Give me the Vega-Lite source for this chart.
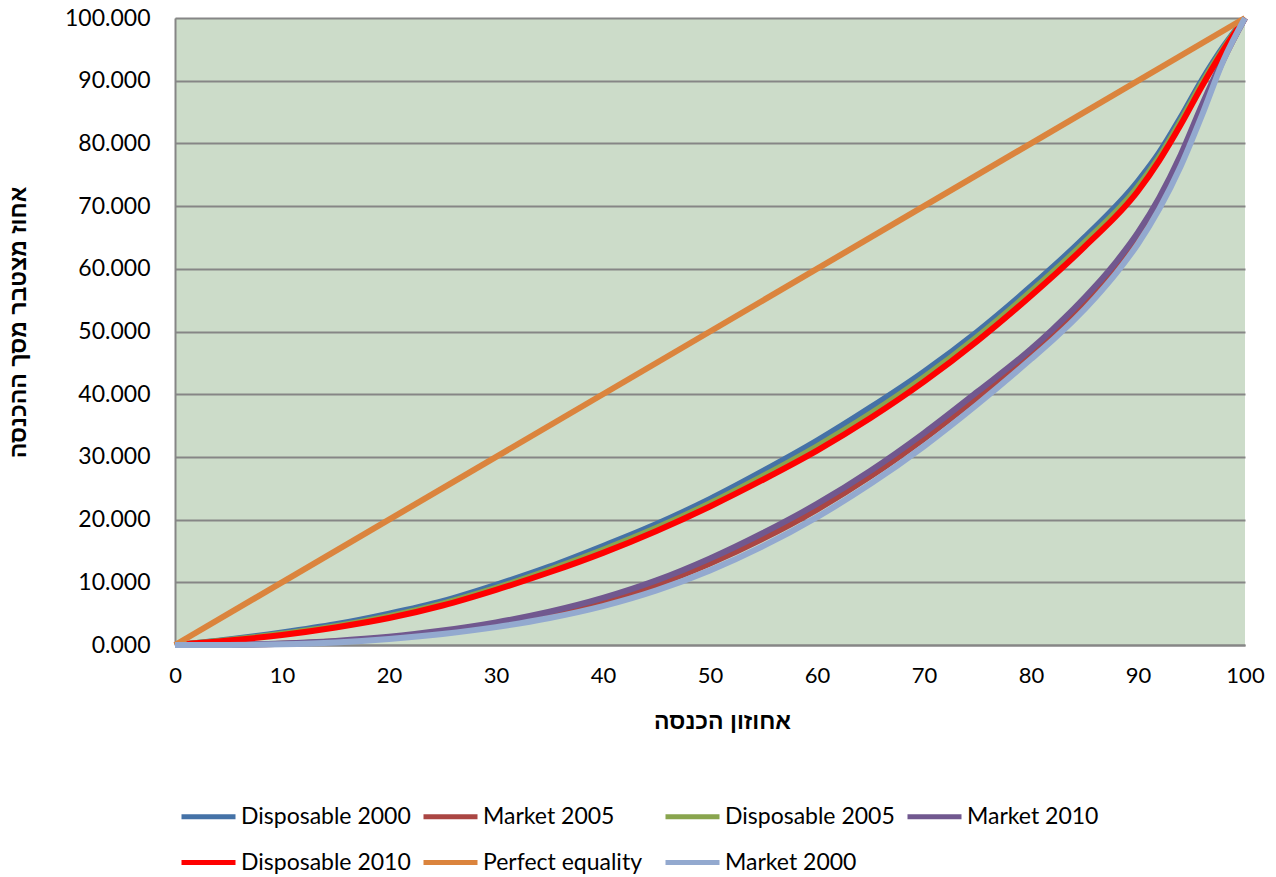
{
  "$schema": "https://vega.github.io/schema/vega-lite/v6.json",
  "autosize": {"type": "none"},
  "width": 1070,
  "height": 627,
  "padding": {"left": 175, "top": 18, "right": 31, "bottom": 232},
  "background": "white",
  "config": {
    "view": {"fill": "#CCDCC9", "stroke": null},
    "font": "Lato"
  },
  "datasets": {
    "lorenz": [
      {"series": "Disposable 2000", "x": 0, "y": 0}, {"series": "Disposable 2000", "x": 5, "y": 0.9}, {"series": "Disposable 2000", "x": 10, "y": 2.0}, {"series": "Disposable 2000", "x": 15, "y": 3.3}, {"series": "Disposable 2000", "x": 20, "y": 5.0}, {"series": "Disposable 2000", "x": 25, "y": 7.0}, {"series": "Disposable 2000", "x": 30, "y": 9.6}, {"series": "Disposable 2000", "x": 35, "y": 12.5}, {"series": "Disposable 2000", "x": 40, "y": 15.8}, {"series": "Disposable 2000", "x": 45, "y": 19.3}, {"series": "Disposable 2000", "x": 50, "y": 23.3}, {"series": "Disposable 2000", "x": 55, "y": 27.8}, {"series": "Disposable 2000", "x": 60, "y": 32.6}, {"series": "Disposable 2000", "x": 65, "y": 37.9}, {"series": "Disposable 2000", "x": 70, "y": 43.6}, {"series": "Disposable 2000", "x": 75, "y": 50.0}, {"series": "Disposable 2000", "x": 80, "y": 57.2}, {"series": "Disposable 2000", "x": 85, "y": 65.0}, {"series": "Disposable 2000", "x": 90, "y": 74.0}, {"series": "Disposable 2000", "x": 92, "y": 78.6}, {"series": "Disposable 2000", "x": 94, "y": 84.2}, {"series": "Disposable 2000", "x": 96, "y": 90.2}, {"series": "Disposable 2000", "x": 98, "y": 95.5}, {"series": "Disposable 2000", "x": 100, "y": 100},

      {"series": "Market 2005", "x": 0, "y": 0}, {"series": "Market 2005", "x": 5, "y": 0.03}, {"series": "Market 2005", "x": 10, "y": 0.2}, {"series": "Market 2005", "x": 15, "y": 0.55}, {"series": "Market 2005", "x": 20, "y": 1.15}, {"series": "Market 2005", "x": 25, "y": 2.05}, {"series": "Market 2005", "x": 30, "y": 3.25}, {"series": "Market 2005", "x": 35, "y": 4.85}, {"series": "Market 2005", "x": 40, "y": 6.9}, {"series": "Market 2005", "x": 45, "y": 9.6}, {"series": "Market 2005", "x": 50, "y": 13.0}, {"series": "Market 2005", "x": 55, "y": 17.0}, {"series": "Market 2005", "x": 60, "y": 21.6}, {"series": "Market 2005", "x": 65, "y": 26.9}, {"series": "Market 2005", "x": 70, "y": 32.9}, {"series": "Market 2005", "x": 75, "y": 39.5}, {"series": "Market 2005", "x": 80, "y": 46.4}, {"series": "Market 2005", "x": 82, "y": 49.5}, {"series": "Market 2005", "x": 84, "y": 52.8}, {"series": "Market 2005", "x": 86, "y": 56.4}, {"series": "Market 2005", "x": 88, "y": 60.4}, {"series": "Market 2005", "x": 90, "y": 65.0}, {"series": "Market 2005", "x": 92, "y": 70.6}, {"series": "Market 2005", "x": 94, "y": 77.4}, {"series": "Market 2005", "x": 96, "y": 85.5}, {"series": "Market 2005", "x": 98, "y": 93.4}, {"series": "Market 2005", "x": 100, "y": 100},

      {"series": "Disposable 2005", "x": 0, "y": 0}, {"series": "Disposable 2005", "x": 5, "y": 0.8}, {"series": "Disposable 2005", "x": 10, "y": 1.8}, {"series": "Disposable 2005", "x": 15, "y": 3.0}, {"series": "Disposable 2005", "x": 20, "y": 4.6}, {"series": "Disposable 2005", "x": 25, "y": 6.6}, {"series": "Disposable 2005", "x": 30, "y": 9.1}, {"series": "Disposable 2005", "x": 35, "y": 12.0}, {"series": "Disposable 2005", "x": 40, "y": 15.2}, {"series": "Disposable 2005", "x": 45, "y": 18.7}, {"series": "Disposable 2005", "x": 50, "y": 22.6}, {"series": "Disposable 2005", "x": 55, "y": 27.0}, {"series": "Disposable 2005", "x": 60, "y": 31.7}, {"series": "Disposable 2005", "x": 65, "y": 36.9}, {"series": "Disposable 2005", "x": 70, "y": 42.7}, {"series": "Disposable 2005", "x": 75, "y": 49.2}, {"series": "Disposable 2005", "x": 80, "y": 56.4}, {"series": "Disposable 2005", "x": 85, "y": 64.2}, {"series": "Disposable 2005", "x": 90, "y": 73.1}, {"series": "Disposable 2005", "x": 92, "y": 77.9}, {"series": "Disposable 2005", "x": 94, "y": 83.6}, {"series": "Disposable 2005", "x": 96, "y": 89.7}, {"series": "Disposable 2005", "x": 98, "y": 95.2}, {"series": "Disposable 2005", "x": 100, "y": 100},

      {"series": "Market 2010", "x": 0, "y": 0}, {"series": "Market 2010", "x": 5, "y": 0.05}, {"series": "Market 2010", "x": 10, "y": 0.25}, {"series": "Market 2010", "x": 15, "y": 0.65}, {"series": "Market 2010", "x": 20, "y": 1.3}, {"series": "Market 2010", "x": 25, "y": 2.3}, {"series": "Market 2010", "x": 30, "y": 3.6}, {"series": "Market 2010", "x": 35, "y": 5.3}, {"series": "Market 2010", "x": 40, "y": 7.5}, {"series": "Market 2010", "x": 45, "y": 10.3}, {"series": "Market 2010", "x": 50, "y": 13.8}, {"series": "Market 2010", "x": 55, "y": 17.9}, {"series": "Market 2010", "x": 60, "y": 22.5}, {"series": "Market 2010", "x": 65, "y": 27.8}, {"series": "Market 2010", "x": 70, "y": 33.8}, {"series": "Market 2010", "x": 75, "y": 40.4}, {"series": "Market 2010", "x": 80, "y": 47.2}, {"series": "Market 2010", "x": 82, "y": 50.3}, {"series": "Market 2010", "x": 84, "y": 53.6}, {"series": "Market 2010", "x": 86, "y": 57.2}, {"series": "Market 2010", "x": 88, "y": 61.2}, {"series": "Market 2010", "x": 90, "y": 65.8}, {"series": "Market 2010", "x": 92, "y": 71.4}, {"series": "Market 2010", "x": 94, "y": 78.2}, {"series": "Market 2010", "x": 96, "y": 86.2}, {"series": "Market 2010", "x": 98, "y": 93.6}, {"series": "Market 2010", "x": 100, "y": 100},

      {"series": "Disposable 2010", "x": 0, "y": 0}, {"series": "Disposable 2010", "x": 5, "y": 0.7}, {"series": "Disposable 2010", "x": 10, "y": 1.6}, {"series": "Disposable 2010", "x": 15, "y": 2.8}, {"series": "Disposable 2010", "x": 20, "y": 4.3}, {"series": "Disposable 2010", "x": 25, "y": 6.3}, {"series": "Disposable 2010", "x": 30, "y": 8.8}, {"series": "Disposable 2010", "x": 35, "y": 11.6}, {"series": "Disposable 2010", "x": 40, "y": 14.7}, {"series": "Disposable 2010", "x": 45, "y": 18.2}, {"series": "Disposable 2010", "x": 50, "y": 22.1}, {"series": "Disposable 2010", "x": 55, "y": 26.4}, {"series": "Disposable 2010", "x": 60, "y": 31.0}, {"series": "Disposable 2010", "x": 65, "y": 36.2}, {"series": "Disposable 2010", "x": 70, "y": 42.0}, {"series": "Disposable 2010", "x": 75, "y": 48.5}, {"series": "Disposable 2010", "x": 80, "y": 55.7}, {"series": "Disposable 2010", "x": 85, "y": 63.5}, {"series": "Disposable 2010", "x": 90, "y": 72.4}, {"series": "Disposable 2010", "x": 92, "y": 77.3}, {"series": "Disposable 2010", "x": 94, "y": 83.0}, {"series": "Disposable 2010", "x": 96, "y": 89.2}, {"series": "Disposable 2010", "x": 98, "y": 94.9}, {"series": "Disposable 2010", "x": 100, "y": 100},

      {"series": "Perfect equality", "x": 0, "y": 0}, {"series": "Perfect equality", "x": 100, "y": 100},

      {"series": "Market 2000", "x": 0, "y": 0}, {"series": "Market 2000", "x": 5, "y": 0.02}, {"series": "Market 2000", "x": 10, "y": 0.12}, {"series": "Market 2000", "x": 15, "y": 0.4}, {"series": "Market 2000", "x": 20, "y": 0.95}, {"series": "Market 2000", "x": 25, "y": 1.75}, {"series": "Market 2000", "x": 30, "y": 2.85}, {"series": "Market 2000", "x": 35, "y": 4.3}, {"series": "Market 2000", "x": 40, "y": 6.2}, {"series": "Market 2000", "x": 45, "y": 8.7}, {"series": "Market 2000", "x": 50, "y": 11.9}, {"series": "Market 2000", "x": 55, "y": 15.8}, {"series": "Market 2000", "x": 60, "y": 20.4}, {"series": "Market 2000", "x": 65, "y": 25.7}, {"series": "Market 2000", "x": 70, "y": 31.7}, {"series": "Market 2000", "x": 75, "y": 38.4}, {"series": "Market 2000", "x": 80, "y": 45.6}, {"series": "Market 2000", "x": 82, "y": 48.6}, {"series": "Market 2000", "x": 84, "y": 51.8}, {"series": "Market 2000", "x": 86, "y": 55.4}, {"series": "Market 2000", "x": 88, "y": 59.4}, {"series": "Market 2000", "x": 90, "y": 64.0}, {"series": "Market 2000", "x": 92, "y": 69.6}, {"series": "Market 2000", "x": 94, "y": 76.4}, {"series": "Market 2000", "x": 96, "y": 84.6}, {"series": "Market 2000", "x": 98, "y": 93.3}, {"series": "Market 2000", "x": 100, "y": 100}
    ]
  },
  "data": {"name": "lorenz"},
  "mark": {"type": "line", "strokeWidth": 6, "interpolate": "monotone", "strokeCap": "butt", "clip": false},
  "encoding": {
    "x": {
      "field": "x", "type": "quantitative",
      "scale": {"domain": [0, 100], "nice": false},
      "axis": {
        "values": [0, 10, 20, 30, 40, 50, 60, 70, 80, 90, 100],
        "grid": false, "ticks": false,
        "domainColor": "#868686", "domainWidth": 2,
        "labelFont": "Lato", "labelFontSize": 22, "labelColor": "#000000", "labelPadding": 20,
        "labelFlush": false,
        "title": "אחוזון הכנסה",
        "titleFont": "Liberation Sans", "titleFontSize": 23, "titleFontWeight": "bold", "titleColor": "#000000",
        "titleX": 547, "titleY": 76, "titleBaseline": "middle", "titleAlign": "center"
      }
    },
    "y": {
      "field": "y", "type": "quantitative",
      "scale": {"domain": [0, 100], "nice": false},
      "axis": {
        "values": [0, 10, 20, 30, 40, 50, 60, 70, 80, 90, 100],
        "format": ".3f",
        "grid": true, "gridColor": "#868686", "gridWidth": 2,
        "ticks": false,
        "domainColor": "#868686", "domainWidth": 2,
        "labelFont": "Lato", "labelFontSize": 23, "labelColor": "#000000", "labelPadding": 25,
        "labelFlush": false,
        "title": "אחוז מצטבר מסך ההכנסה",
        "titleFont": "Liberation Sans", "titleFontSize": 23, "titleFontWeight": "bold", "titleColor": "#000000",
        "titleX": -157, "titleY": 304, "titleBaseline": "middle", "titleAlign": "center", "titleAngle": 270
      }
    },
    "color": {
      "field": "series", "type": "nominal",
      "scale": {
        "domain": ["Disposable 2000", "Market 2005", "Disposable 2005", "Market 2010", "Disposable 2010", "Perfect equality", "Market 2000"],
        "range": ["#4572A7", "#AA4643", "#89A54E", "#71588F", "#FF0000", "#DB843D", "#93A9CF"]
      },
      "legend": {
        "title": null,
        "orient": "none",
        "legendX": 4,
        "legendY": 769,
        "direction": "horizontal",
        "columns": 4,
        "gridAlign": "all",
        "columnPadding": 2,
        "rowPadding": 4,
        "symbolType": "stroke",
        "symbolSize": 2916,
        "symbolStrokeWidth": 5,
        "labelOffset": 3,
        "labelFont": "Lato",
        "labelFontSize": 23,
        "labelColor": "#000000",
        "labelLimit": 400
      }
    }
  }
}
